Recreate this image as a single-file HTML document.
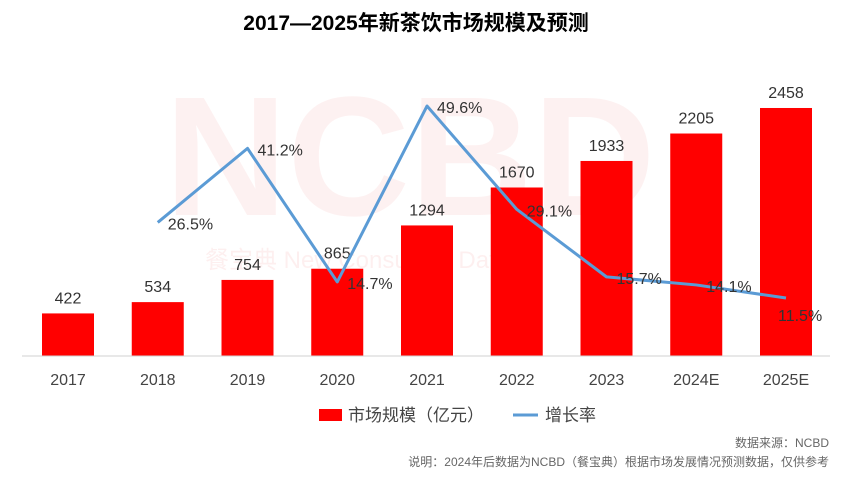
<!DOCTYPE html>
<html><head><meta charset="utf-8">
<style>
body{margin:0;width:859px;height:477px;background:#fff;overflow:hidden;font-family:"Liberation Sans","Noto Sans CJK SC",sans-serif;}
svg text{font-family:"Liberation Sans","Noto Sans CJK SC",sans-serif;}
</style></head><body>
<svg id="c" width="859" height="477">
<text x="416" y="30" text-anchor="middle" font-size="21" font-weight="bold" fill="#000">2017—2025年新茶饮市场规模及预测</text>
<text x="410" y="215" text-anchor="middle" font-size="170" font-weight="bold" fill="#e60000" opacity="0.05">NCBD</text>
<text x="205" y="268" font-size="24" fill="#e60000" opacity="0.06">餐宝典 New Consulting Data</text>
<g id="bars"></g>
<line x1="22" y1="356" x2="830" y2="356" stroke="#d0d0d0" stroke-width="1"/>
<g id="xl"></g>
<g id="line"></g>
<g>
<rect x="319" y="409" width="23" height="12" fill="#ff0000"/>
<text x="348" y="421" font-size="17" fill="#444">市场规模（亿元）</text>
<line x1="513" y1="415" x2="538" y2="415" stroke="#5b9bd5" stroke-width="3"/>
<text x="545" y="421" font-size="17" fill="#444">增长率</text>
</g>
<text x="829" y="447" text-anchor="end" font-size="12" fill="#666">数据来源：NCBD</text>
<text x="829" y="466" text-anchor="end" font-size="12" fill="#666">说明：2024年后数据为NCBD（餐宝典）根据市场发展情况预测数据，仅供参考</text>
</svg>
<script>
const categories=["2017","2018","2019","2020","2021","2022","2023","2024E","2025E"];
const marketSize=[422,534,754,865,1294,1670,1933,2205,2458];
const growthRate=[null,26.5,41.2,14.7,49.6,29.1,15.7,14.1,11.5];
const NS="http://www.w3.org/2000/svg";
const base=356;
function xPos(i){return 68+i*89.75;}
function yBar(v){return base-v*0.1009;}
function yLine(p){return base-p*5.04;}
function mk(t,a,parent){const e=document.createElementNS(NS,t);for(const k in a)e.setAttribute(k,a[k]);parent.appendChild(e);return e;}
const bars=document.getElementById('bars'),xl=document.getElementById('xl'),ln=document.getElementById('line');
categories.forEach((c,i)=>{
 const x=xPos(i),v=marketSize[i],y=yBar(v);
 const r=mk('rect',{x:x-26,y:y,width:52,height:base-y,fill:'#ff0000'},bars);
 
 
 const t=mk('text',{x:x,y:y-10,'text-anchor':'middle','font-size':16,fill:'#333'},bars);t.textContent=v;
 
 
 const l=mk('text',{x:x,y:385,'text-anchor':'middle','font-size':16,fill:'#444'},xl);l.textContent=c;
 
 
});
let pts=[];
growthRate.forEach((p,i)=>{if(p!==null)pts.push([xPos(i),yLine(p),p,i]);});
const pl=mk('polyline',{points:pts.map(p=>p[0]+','+p[1]).join(' '),fill:'none',stroke:'#5b9bd5','stroke-width':3,'stroke-linejoin':'round'},ln);


pts.forEach((p,k)=>{
 const last=k===pts.length-1;
 const t=mk('text',{x:last?p[0]-8:p[0]+10,y:last?p[1]+23:p[1]+7,'font-size':16,fill:'#333'},ln);t.textContent=p[2].toFixed(1)+'%';
 
 
});
</script>
</body></html>
